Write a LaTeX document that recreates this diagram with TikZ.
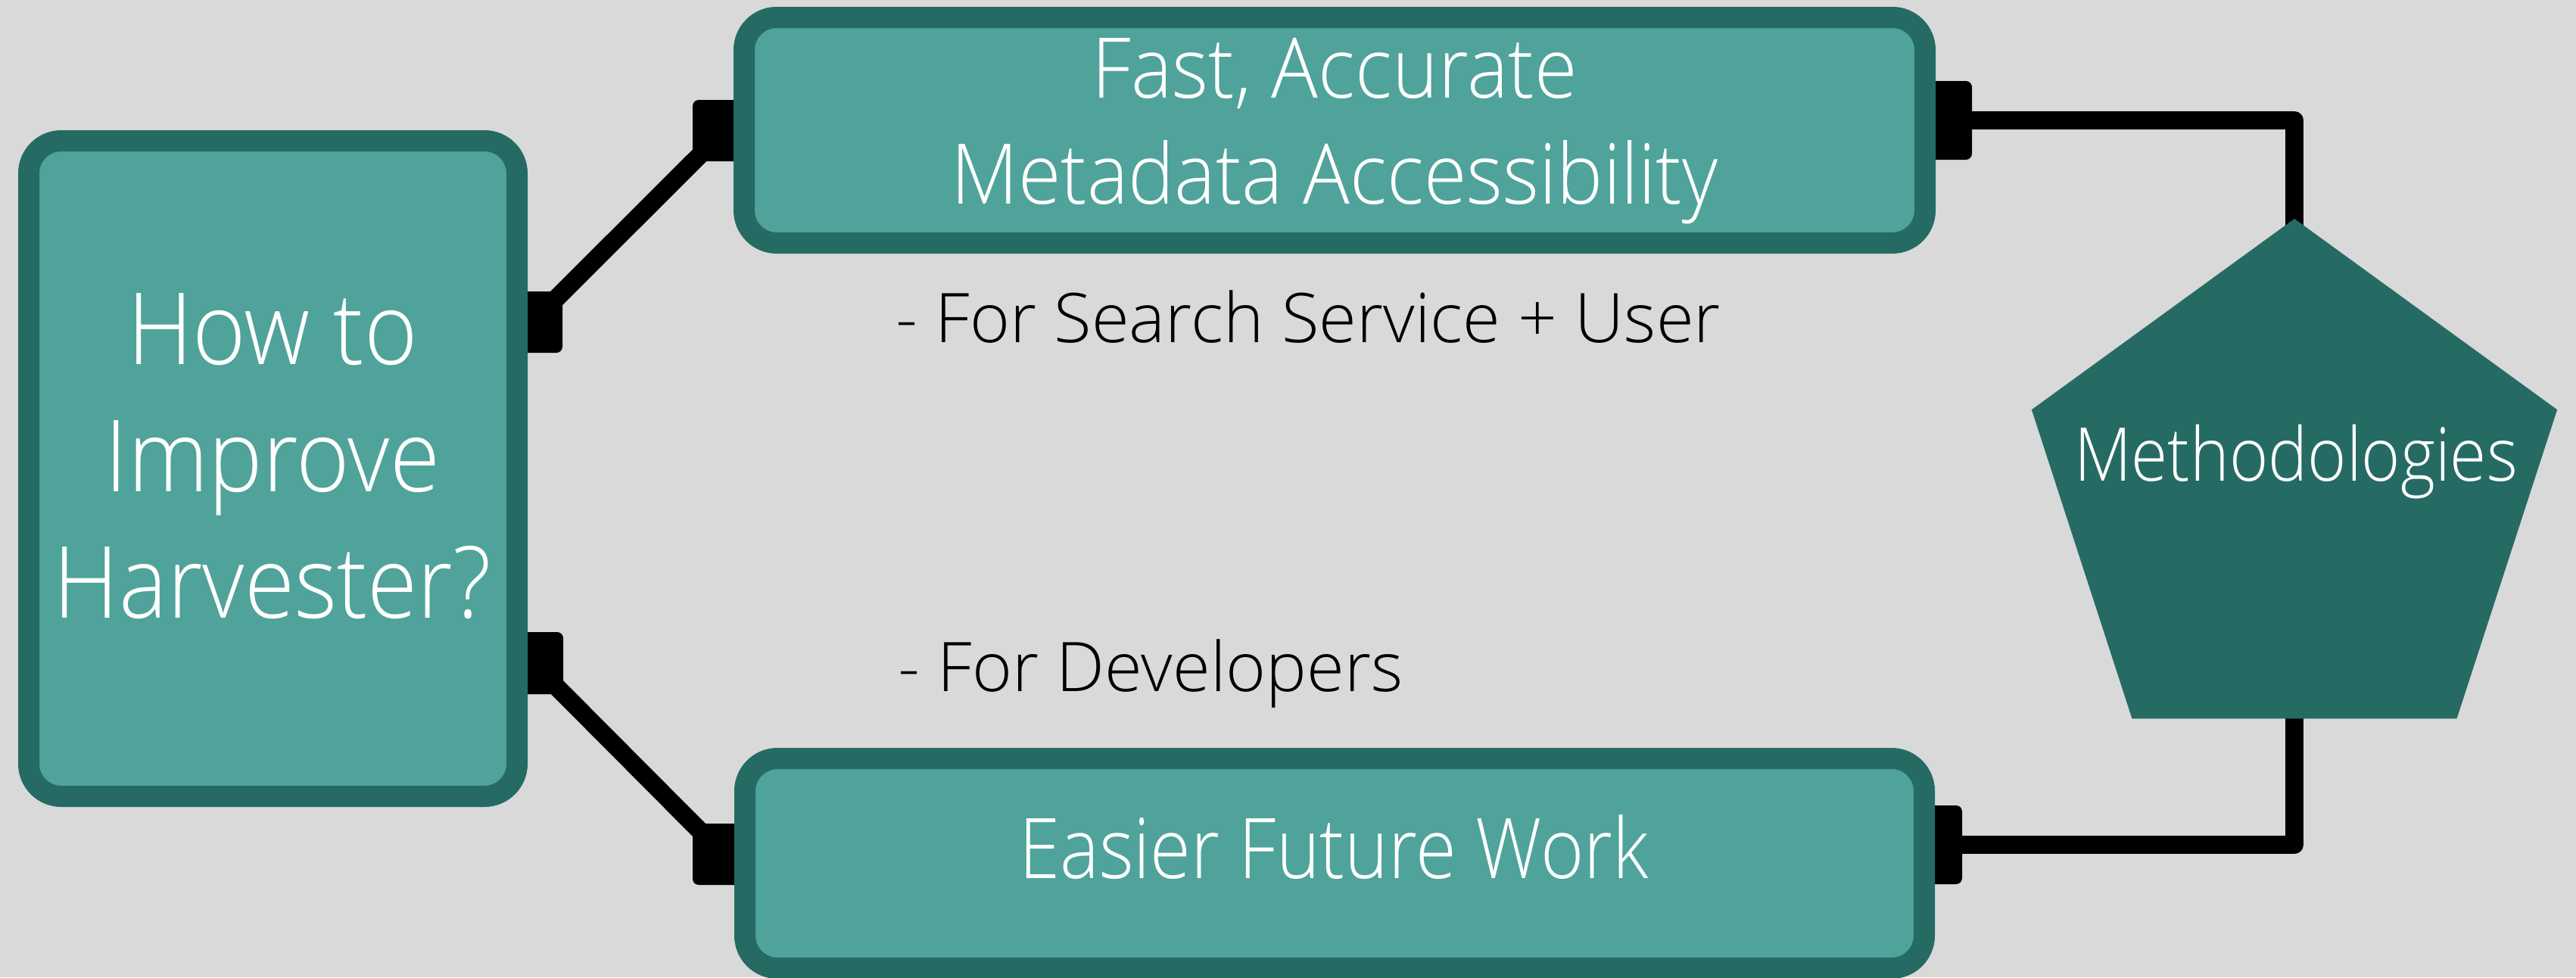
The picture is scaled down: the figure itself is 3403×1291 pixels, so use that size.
\documentclass[tikz,border=0pt]{standalone}
\usepackage{fontspec}
\setmainfont{Open Sans}
\newfontfamily\lightf{Open Sans Light}
\newfontfamily\condQ[FakeStretch=0.915]{Open Sans Light}
\newfontfamily\condT[FakeStretch=0.93]{Open Sans Light}
\newfontfamily\condB[FakeStretch=0.885]{Open Sans Light}
\newfontfamily\condM[FakeStretch=0.895]{Open Sans Light}
\usetikzlibrary{shapes.geometric,calc}
\definecolor{bgc}{HTML}{D9D9D9}
\definecolor{tealL}{HTML}{4FA39A}
\definecolor{tealD}{HTML}{256B63}
\pgfdeclarelayer{back}
\pgfdeclarelayer{wires}
\pgfsetlayers{back,wires,main}
\begin{document}
\begin{tikzpicture}[x=1pt,y=-1pt,
  box/.style={rectangle, rounded corners=43pt, draw=tealD, line width=28pt, fill=tealL, inner sep=0pt, outer sep=0pt},
  stub/.style={rectangle, rounded corners=8pt, fill=black, inner sep=0pt, outer sep=0pt},
  wire/.style={line width=24pt, draw=black, line join=round},
  wtext/.style={text=white, anchor=base, inner sep=0pt},
  qtext/.style={wtext, font=\condQ\fontsize{131.6}{150}\selectfont},
  ttext/.style={wtext, font=\condT\fontsize{110.6}{130}\selectfont},
  btext/.style={wtext, font=\condB\fontsize{110.6}{130}\selectfont},
  mtext/.style={wtext, font=\condM\fontsize{98}{115}\selectfont},
  note/.style={text=black, anchor=base west, inner sep=0pt, font=\lightf\fontsize{90.5}{105}\selectfont}]
\begin{pgfonlayer}{back}
\fill[bgc] (0,0) rectangle (3403,1291);
\end{pgfonlayer}
\useasboundingbox (0,0) rectangle (3403,1291);
% stubs
\node[stub, minimum width=58pt, minimum height=81pt] (L1) at (714,425.5) {};
\node[stub, minimum width=59pt, minimum height=82pt] (L2) at (714.5,876) {};
\node[stub, minimum width=70pt, minimum height=81pt] (T1) at (950,172.5) {};
\node[stub, minimum width=70pt, minimum height=81pt] (B1) at (950,1128.5) {};
\node[stub, minimum width=65pt, minimum height=104pt] (T2) at (2572.5,159) {};
\node[stub, minimum width=52pt, minimum height=104pt] (B2) at (2566,1116) {};
% boxes
\node[box, minimum width=645pt, minimum height=866pt] (Q) at (360.5,619) {};
\node[box, minimum width=1560pt, minimum height=298pt] (T) at (1763,172) {};
\node[box, minimum width=1558pt, minimum height=277pt] (B) at (1763,1140.5) {};
\node[regular polygon, regular polygon sides=5, minimum size=730pt, inner sep=0pt, outer sep=0pt, fill=tealD] (meth) at (3031,654) {};
% texts
\node[qtext] (q1) at (360,481) {How to};
\node[qtext] (q2) at (360,649) {Improve};
\node[qtext] (q3) at (360,816) {Harvester?};
\node[ttext] (t1) at (1763,129) {Fast, Accurate};
\node[ttext] (t2) at (1763,269) {Metadata Accessibility};
\node[btext] (b1) at (1762,1160) {Easier Future Work};
\node[mtext] (m1) at (3033,635) {Methodologies};
\node[note] (n1) at (1183,452) {- For Search Service + User};
\node[note] (n2) at (1186,913) {- For Developers};
% wires
\begin{pgfonlayer}{wires}
\draw[wire] ($(L1.center)+(10,-20.5)$) -- ($(T1.center)+(-15,22)$);
\draw[wire] ($(L2.center)+(10.5,21)$) -- ($(B1.center)+(-16,-21.5)$);
\draw[wire] (T2.center) -| (meth.center);
\draw[wire] (B2.center) -| (meth.center);
\end{pgfonlayer}
\end{tikzpicture}
\end{document}
